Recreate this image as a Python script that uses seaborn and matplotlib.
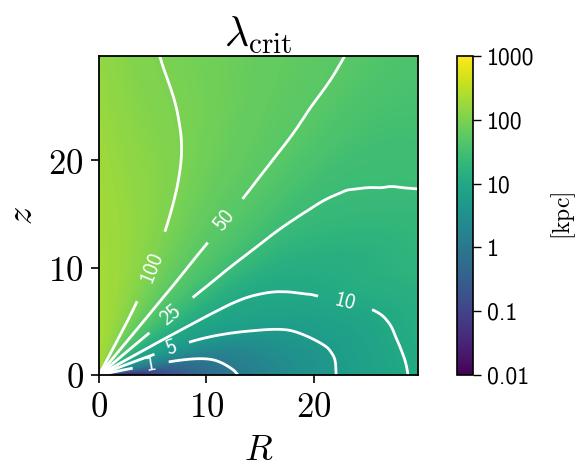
import numpy as np
import matplotlib
matplotlib.use("Agg")
import matplotlib.pyplot as plt
import seaborn as sns
from matplotlib.colors import LogNorm
from matplotlib.cm import ScalarMappable
from matplotlib.tri import Triangulation, UniformTriRefiner

# ---- data ----
# polar sampling grid: angle above the R axis (deg) and distance from origin
theta_deg = [0, 5, 10, 15, 20, 25, 30, 40, 50, 60, 70, 80, 90]
radius = [0, 3, 6, 10, 15, 20, 25, 30, 36, 43]
# log10(lambda_crit / kpc), one row per angle, one column per radius
log_lambda = [
    [-2.60, -1.75, -0.91, -0.29, 0.20, 0.58, 0.84, 1.05, 1.27, 1.48],   # 0
    [-1.20, -1.00, -0.60, -0.15, 0.27, 0.60, 0.86, 1.07, 1.28, 1.47],   # 5
    [-0.20, -0.17, -0.08, 0.08, 0.42, 0.70, 0.90, 1.10, 1.30, 1.48],    # 10
    [0.25, 0.28, 0.33, 0.45, 0.65, 0.82, 1.00, 1.15, 1.32, 1.49],       # 15
    [0.63, 0.65, 0.67, 0.72, 0.85, 0.96, 1.10, 1.22, 1.36, 1.50],       # 20
    [0.87, 0.875, 0.88, 0.90, 0.95, 1.03, 1.13, 1.24, 1.37, 1.51],      # 25
    [1.03, 1.03, 1.035, 1.04, 1.05, 1.12, 1.22, 1.32, 1.42, 1.53],      # 30
    [1.40, 1.40, 1.40, 1.41, 1.42, 1.43, 1.44, 1.46, 1.50, 1.56],       # 40
    [1.69, 1.69, 1.69, 1.69, 1.688, 1.685, 1.68, 1.675, 1.665, 1.65],   # 50
    [1.95, 1.95, 1.948, 1.926, 1.887, 1.85, 1.83, 1.80, 1.78, 1.75],    # 60
    [2.15, 2.15, 2.14, 2.12, 2.08, 2.03, 1.97, 1.92, 1.87, 1.83],       # 70
    [2.27, 2.27, 2.26, 2.24, 2.20, 2.14, 2.07, 2.01, 1.95, 1.90],       # 80
    [2.32, 2.33, 2.33, 2.32, 2.30, 2.27, 2.22, 2.17, 2.10, 2.05],       # 90
]
contour_levels = [1, 5, 10, 25, 50, 100]
cbar_ticks = [0.01, 0.1, 1, 10, 100, 1000]
cbar_ticklabels = ["0.01", "0.1", "1", "10", "100", "1000"]
axis_ticks = [0, 10, 20]
axis_ticklabels = [r"$0$", r"$10$", r"$20$"]

# ---- style ----
sns.set_style("ticks")
plt.rcParams["mathtext.fontset"] = "cm"
for key in ["axes.edgecolor", "xtick.color", "ytick.color", "text.color",
            "axes.labelcolor"]:
    plt.rcParams[key] = "black"

# ---- smooth rendering of the polar table (library triangulation refiner) ----
nth, nr = len(theta_deg), len(radius)
TH, RR = np.meshgrid(np.array(theta_deg, float) / 5.0,
                     np.array(radius, float) / 3.5, indexing="ij")
idx = np.arange(nth * nr).reshape(nth, nr)
tris = []
for i in range(nth - 1):
    for j in range(nr - 1):
        a, b, c, d = idx[i, j], idx[i + 1, j], idx[i + 1, j + 1], idx[i, j + 1]
        tris += [[a, b, c], [a, c, d]]
tri_p = Triangulation(TH.ravel(), RR.ravel(), np.array(tris))
tri_f, logl_f = UniformTriRefiner(tri_p).refine_field(
    np.array(log_lambda, float).ravel(), subdiv=4)
th_f = np.deg2rad(tri_f.x * 5.0)
r_f = tri_f.y * 3.5
tri_xy = Triangulation(r_f * np.cos(th_f), r_f * np.sin(th_f), tri_f.triangles)
lam_f = 10.0 ** logl_f

fig = plt.figure(figsize=(5.85, 4.75), dpi=100)
ax = fig.add_axes([99 / 585, 100 / 475, 319 / 585, 319 / 475])
cax = fig.add_axes([457 / 585, 100 / 475, 16 / 585, 319 / 475])

cmap = sns.color_palette("viridis", as_cmap=True)
norm = LogNorm(vmin=1e-2, vmax=1e3)

cf = ax.tricontourf(tri_xy, lam_f, levels=np.logspace(-2, 3, 301), norm=norm,
                    cmap=cmap, extend="both")
cf.set_edgecolor("face")
cf.set_linewidth(0.3)

cs = ax.tricontour(tri_xy, lam_f, levels=contour_levels, colors="white",
                   linewidths=2.0)
label_pos = [(4.8, 1.0), (6.7, 2.7), (23.0, 7.1), (6.6, 5.7),
             (11.7, 14.4), (4.85, 10.1)]
texts = ax.clabel(cs, fmt="%g", fontsize=15, inline=True, inline_spacing=6,
                  manual=label_pos)
for t in texts:
    t.set_fontfamily("cmss10")

ax.set_xlim(0, 29.7)
ax.set_ylim(0, 29.7)
ax.set_xticks(axis_ticks)
ax.set_xticklabels(axis_ticklabels)
ax.set_yticks(axis_ticks)
ax.set_yticklabels(axis_ticklabels)
ax.tick_params(labelsize=25, length=6, width=1.2, pad=5, direction="out")
for s in ax.spines.values():
    s.set_linewidth(1.3)
ax.set_xlabel(r"$R$", fontsize=26, labelpad=6)
ax.set_ylabel(r"$z$", fontsize=26, labelpad=7)
ax.set_title(r"$\lambda_{\rm crit}$", fontsize=30, pad=6)

sm = ScalarMappable(norm=norm, cmap=cmap)
cb = fig.colorbar(sm, cax=cax)
cb.ax.minorticks_off()
cb.set_ticks(cbar_ticks)
cb.set_ticklabels(cbar_ticklabels)
cb.ax.tick_params(labelsize=17, length=6, width=1, pad=4)
for t in cb.ax.get_yticklabels():
    t.set_fontfamily("cmss10")
cb.outline.set_linewidth(1.2)
cb.set_label(r"$[{\rm kpc}]$", fontsize=17, labelpad=11)

fig.savefig("out.png", dpi=100)
